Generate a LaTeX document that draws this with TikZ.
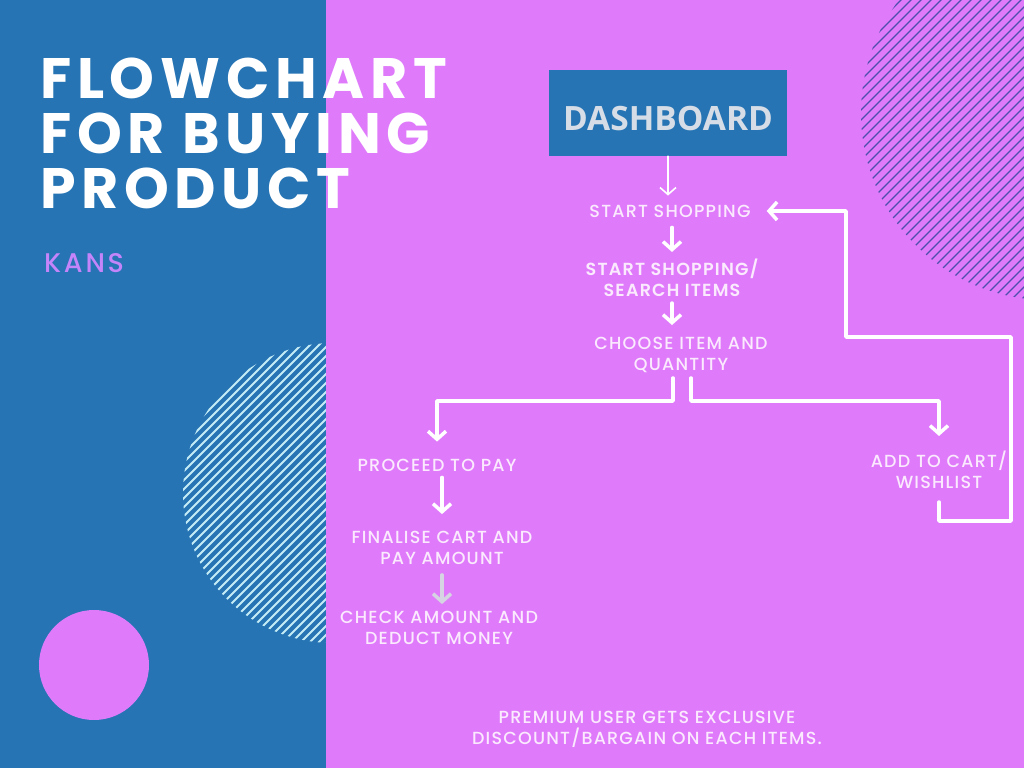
\documentclass[tikz,border=0pt]{standalone}
\usepackage{fontspec}
\setmainfont{Poppins}
\newfontfamily\headfont{Poppins}[LetterSpace=10]
\newfontfamily\kansfont{Poppins}[UprightFont={* Medium}, LetterSpace=10]
\newfontfamily\flowfont{Poppins}[UprightFont={* Medium}, BoldFont={* SemiBold}, LetterSpace=7]
\newfontfamily\boxfont{Open Sans}
\usetikzlibrary{arrows.meta}

\definecolor{panelblue}{RGB}{38,116,180}
\definecolor{panelpink}{RGB}{223,123,250}
\definecolor{hatchlight}{RGB}{196,236,246}
\definecolor{hatchdark}{RGB}{78,80,172}
\definecolor{boxtext}{RGB}{214,221,230}
\definecolor{flowtext}{RGB}{251,234,254}
\definecolor{kanstext}{RGB}{196,132,250}
\definecolor{lastarrow}{RGB}{214,212,226}

\begin{document}
\begin{tikzpicture}[x=1pt,y=-1pt,
  stage/.style={text=flowtext, font=\flowfont\fontsize{17.5}{21}\selectfont, align=center, inner sep=0pt},
  flow/.style={draw=white, line width=3.5pt, line cap=round, line join=round,
    -{Straight Barb[length=8pt,width=18pt]}},
  thinflow/.style={draw=white, line width=1.6pt, line cap=round,
    -{Straight Barb[length=7pt,width=16pt]}},
  hatch/.style={line width=1.8pt, draw=hatchlight},
]
\useasboundingbox (0,0) rectangle (1024,768);
% panels
\fill[panelblue] (0,0) rectangle (1024,768);
\begin{scope}
\clip (333,493) circle[radius=150pt];
\foreach \k in {-36,...,36}
  \draw[hatch] (333+\k*9-160,653) -- (333+\k*9+160,333);
\end{scope}
\fill[panelpink] (326,0) rectangle (1024,768);
\begin{scope}
\clip (326,0) rectangle (1024,768);
\clip (1048,113) circle[radius=187pt];
\foreach \k in {-40,...,40}
  \draw[hatch, draw=hatchdark, line width=1.3pt] (1048+\k*10-200,313) -- (1048+\k*10+200,-87);
\end{scope}
\fill[panelpink] (94,665) circle[radius=55pt];

% title
\node[text=white, font=\headfont\bfseries\fontsize{57}{57}\selectfont, anchor=base west, inner sep=0pt] (t1) at (40,98) {FLOWCHART};
\node[text=white, font=\headfont\bfseries\fontsize{57}{57}\selectfont, anchor=base west, inner sep=0pt] (t2) at (40,153) {FOR BUYING};
\node[text=white, font=\headfont\bfseries\fontsize{57}{57}\selectfont, anchor=base west, inner sep=0pt] (t3) at (40,208) {PRODUCT};
\node[text=kanstext, font=\kansfont\fontsize{27}{27}\selectfont, anchor=base west, inner sep=0pt] (kans) at (44,272) {KANS};

% flow
\node[fill=panelblue, minimum width=238pt, minimum height=86pt, text=boxtext, text height=35pt, text depth=0pt,
  font=\boxfont\bfseries\fontsize{33.5}{34}\selectfont] (dash) at (668,113) {DASHBOARD};
\node[stage] (shop) at (670,211) {START SHOPPING};
\node[stage, font=\flowfont\bfseries\fontsize{17.5}{21}\selectfont] (search) at (672,278) {START SHOPPING/\\SEARCH ITEMS};
\node[stage] (choose) at (681,355) {CHOOSE ITEM AND\\QUANTITY};
\node[stage] (pay) at (437,465) {PROCEED TO PAY};
\node[stage] (final) at (442,548) {FINALISE CART AND\\PAY AMOUNT};
\node[stage] (check) at (439,628) {CHECK AMOUNT AND\\DEDUCT MONEY};
\node[stage] (cart) at (939,470) {ADD TO CART/\\WISHLIST};
\node[stage] (note) at (647,729) {PREMIUM USER GETS EXCLUSIVE\\DISCOUNT/BARGAIN ON EACH ITEMS.};

\draw[thinflow, shorten >=9pt] (dash.south) -- (dash.south |- shop.north);
\draw[flow, shorten <=10pt, shorten >=7pt] (search.north |- shop.south) -- (search.north);
\draw[flow, shorten <=6pt, shorten >=12pt] (search.south) -- (search.south |- choose.north);
\draw[flow, shorten <=5pt, shorten >=17pt] ([xshift=-8pt]choose.south) -- ++(0,28) -| (pay.north);
\draw[flow, shorten <=5pt, shorten >=15pt] ([xshift=10pt]choose.south) -- ++(0,28) -| (cart.north);
\draw[flow, shorten <=6pt, shorten >=17pt] (final.north |- pay.south) -- (final.north);
\draw[flow, draw=lastarrow, shorten <=10pt, shorten >=7pt] (final.south) -- (final.south |- check.north);
\draw[flow, shorten <=13pt, shorten >=16pt] (cart.south) |- (1011,521) |- (846,337) |- (shop.east);
\end{tikzpicture}
\end{document}
